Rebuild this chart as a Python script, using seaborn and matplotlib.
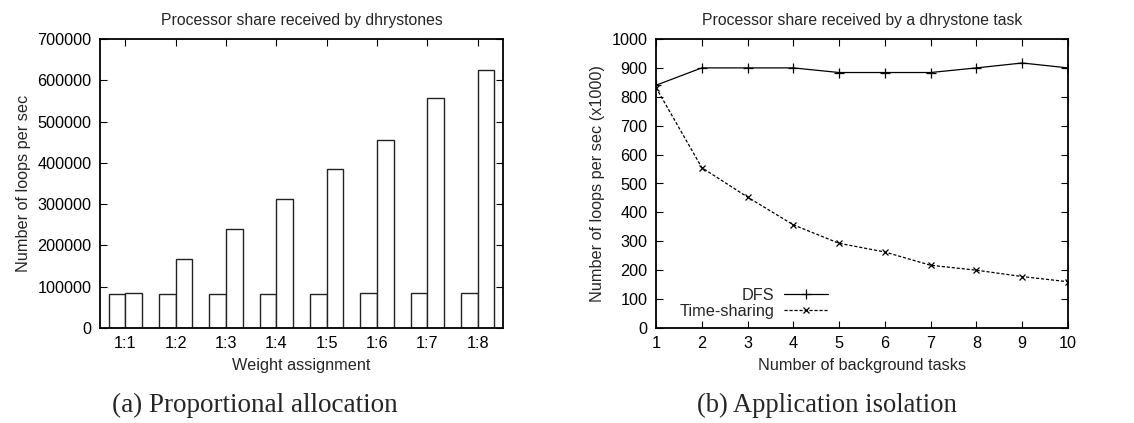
import numpy as np
import pandas as pd
import matplotlib
matplotlib.use("Agg")
import matplotlib.pyplot as plt
import seaborn as sns

# ---- data ----
weights = ["1:1", "1:2", "1:3", "1:4", "1:5", "1:6", "1:7", "1:8"]
task1_loops = [82000, 82000, 82000, 82000, 82000, 84000, 84000, 84000]
task2_loops = [84000, 167000, 239000, 313000, 384000, 455000, 556000, 626000]

bg_tasks = [1, 2, 3, 4, 5, 6, 7, 8, 9, 10]
dfs_loops = [840, 900, 900, 900, 884, 884, 884, 900, 917, 900]
ts_loops = [832, 555, 453, 357, 293, 263, 217, 200, 178, 160]

sns.set_style("ticks")
plt.rcParams["font.family"] = ["Liberation Sans", "DejaVu Sans"]
plt.rcParams["axes.edgecolor"] = "black"
plt.rcParams["axes.linewidth"] = 1.3

W, H = 1134, 423
fig = plt.figure(figsize=(W / 100, H / 100), dpi=100)

def box(l, t, r, b):
    return [l / W, 1 - b / H, (r - l) / W, (b - t) / H]

ax1 = fig.add_axes(box(100, 39, 503, 328))
ax2 = fig.add_axes(box(656, 39, 1068, 328))

FS = 11.7

# ---- left: bars ----
bar_df = pd.DataFrame({
    "weight": weights * 2,
    "loops": task1_loops + task2_loops,
    "task": ["task1"] * len(weights) + ["task2"] * len(weights),
})
sns.barplot(data=bar_df, x="weight", y="loops", hue="task", order=weights,
            palette=["white", "white"], saturation=1, edgecolor="#222222",
            linewidth=1.0, width=0.66, legend=False, ax=ax1, errorbar=None)
ax1.set_xlim(-0.5, 7.5)
ax1.set_ylim(0, 700000)
ax1.set_yticks(np.arange(0, 700001, 100000))
ax1.set_title("Processor share received by dhrystones", fontsize=11.3, pad=10)
ax1.set_xlabel("Weight assignment", fontsize=FS, labelpad=5)
ax1.set_ylabel("Number of loops per sec", fontsize=FS, labelpad=5)

# ---- right: lines ----
sns.lineplot(x=bg_tasks, y=dfs_loops, ax=ax2, color="black", linewidth=0.9,
             linestyle="-", marker="+", markersize=6.5, markeredgewidth=0.9,
             markeredgecolor="black", label="DFS")
sns.lineplot(x=bg_tasks, y=ts_loops, ax=ax2, color="black", linewidth=0.9,
             linestyle=(0, (2.5, 1.5)), marker="x", markersize=4.5,
             markeredgewidth=0.9, markeredgecolor="black", label="Time-sharing")
ax2.set_xlim(1, 10)
ax2.set_ylim(0, 1000)
ax2.set_xticks(bg_tasks)
ax2.set_yticks(np.arange(0, 1001, 100))
ax2.set_title("Processor share received by a dhrystone task", fontsize=11.3, pad=10)
ax2.set_xlabel("Number of background tasks", fontsize=FS, labelpad=5)
ax2.set_ylabel("Number of loops per sec (x1000)", fontsize=FS, labelpad=5)
ax2.legend(loc="upper right", bbox_to_anchor=(0.4175, 0.14), frameon=False,
           markerfirst=False, fontsize=FS, handlelength=2.7, handletextpad=0.6,
           labelspacing=0.1, borderpad=0, borderaxespad=0)

for ax in (ax1, ax2):
    ax.tick_params(direction="in", top=True, right=True, length=5, width=0.8,
                   labelsize=FS, colors="black", pad=6)
    for s in ax.spines.values():
        s.set_visible(True)
        s.set_color("black")

fig.text(255 / W, 1 - 405 / H, "(a) Proportional allocation", ha="center", va="center",
         fontsize=19.5, family=["Liberation Serif", "DejaVu Serif"])
fig.text(827 / W, 1 - 405 / H, "(b) Application isolation", ha="center", va="center",
         fontsize=19.2, family=["Liberation Serif", "DejaVu Serif"])

fig.savefig("out.png", dpi=100, facecolor="white")
